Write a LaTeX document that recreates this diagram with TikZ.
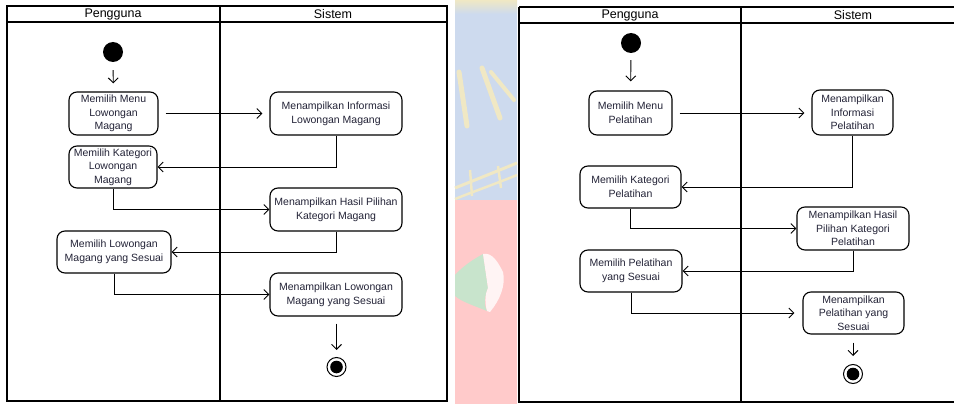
\documentclass[tikz,border=0pt]{standalone}
\usepackage{fontspec}
\setmainfont{Liberation Sans}
\usetikzlibrary{arrows.meta}

\definecolor{txt}{RGB}{35,35,55}
\definecolor{wmblue}{RGB}{205,218,238}
\definecolor{wmred}{RGB}{255,202,202}
\definecolor{wmyellow}{RGB}{240,232,196}
\definecolor{wmgreen}{RGB}{200,228,204}

\tikzset{
  act/.style={draw=black, line width=1.1pt, rounded corners=8pt, fill=white,
    align=center, inner sep=1pt, text=txt,
    font=\fontsize{10.5}{13.6}\selectfont},
  lane/.style={draw=black, line width=1.8pt},
  lanehead/.style={font=\fontsize{12.5}{14}\selectfont, text=black},
  flow/.style={draw=black, line width=0.9pt,
    -{Straight Barb[length=5pt,width=10pt,line width=0.9pt]}},
  startnode/.style={circle, fill=black, minimum size=20pt, inner sep=0pt},
  endnode/.style={circle, draw=black, line width=1pt, fill=white,
    minimum size=19pt, inner sep=0pt,
    path picture={\fill[black] (path picture bounding box.center) circle (6.3pt);}},
}

\begin{document}
\begin{tikzpicture}[x=1pt,y=-1pt]
\useasboundingbox (0,0) rectangle (954,404);
\fill[white] (0,0) rectangle (954,404);

% faded emblem strip between the two diagrams
\fill[wmblue] (455,0) rectangle (517,200);
\fill[wmred] (455,200) rectangle (517,404);
\shade[top color=wmyellow, bottom color=wmblue] (455,0) rectangle (517,14);
\draw[wmyellow, line width=5pt, line cap=round] (459,72) -- (467,126);
\draw[wmyellow, line width=5pt, line cap=round] (482,68) -- (500,118);
\draw[wmyellow, line width=4pt, line cap=round] (491,72) -- (514,100);
\draw[wmyellow, line width=3pt] (455,188) .. controls (475,180) and (495,172) .. (517,163);
\draw[wmyellow, line width=2.5pt] (455,199) .. controls (475,191) and (495,184) .. (517,175);
\draw[wmyellow, line width=2.5pt] (470,170) -- (472,196);
\draw[wmyellow, line width=2.5pt] (498,166) -- (501,188);
\fill[wmgreen] (455,275) .. controls (465,264) and (476,258) .. (483,254)
  -- (488,288) .. controls (484,298) and (484,306) .. (487,311)
  .. controls (475,306) and (462,302) .. (455,296) -- cycle;
\fill[white!80!wmred] (483,254) .. controls (492,252) and (498,262) .. (503,272)
  .. controls (506,285) and (500,300) .. (490,312) -- (487,311)
  .. controls (484,300) and (486,292) .. (488,288) -- cycle;

% ---------- left diagram: lowongan magang ----------
\draw[lane] (7,6) rectangle (447,401);
\draw[lane] (7,22) -- (447,22);
\draw[lane] (220,6) -- (220,401);
\node[lanehead] (lhU) at (113,14.5) {Pengguna};
\node[lanehead] (lhS) at (333,14.5) {Sistem};

\node[startnode] (ls) at (113,52) {};
\node[act, minimum width=89pt, minimum height=43pt] (l1) at (113.5,113.5) {Memilih Menu\\Lowongan\\Magang};
\node[act, minimum width=132pt, minimum height=43pt] (l2) at (336,113.5) {Menampilkan Informasi\\Lowongan Magang};
\node[act, minimum width=88pt, minimum height=42pt] (l3) at (113,167) {Memilih Kategori\\Lowongan\\Magang};
\node[act, minimum width=132pt, minimum height=43pt] (l4) at (336,209.5) {Menampilkan Hasil Pilihan\\Kategori Magang};
\node[act, minimum width=114pt, minimum height=42pt] (l5) at (114,252) {Memilih Lowongan\\Magang yang Sesuai};
\node[act, minimum width=132pt, minimum height=43pt] (l6) at (336,294.5) {Menampilkan Lowongan\\Magang yang Sesuai};
\node[endnode] (le) at (336.5,367) {};

\draw[flow, shorten <=8pt, shorten >=8pt] (ls) -- (l1);
\draw[flow, shorten <=7pt, shorten >=7pt] (l1) -- (l2);
\draw[flow] (l2.south) |- (l3.east);
\draw[flow] (l3.south) |- (l4.west);
\draw[flow] (l4.south) |- (l5.east);
\draw[flow] (l5.south) |- (l6.west);
\draw[flow, shorten <=7pt, shorten >=7pt] (l6.south -| le) -- (le);

% ---------- right diagram: pelatihan ----------
\draw[lane] (519,7) -- (960,7);
\draw[lane] (519,23) -- (960,23);
\draw[lane] (519,7) -- (519,402) -- (960,402);
\draw[lane] (741,7) -- (741,402);
\node[lanehead] (rhU) at (630,15) {Pengguna};
\node[lanehead] (rhS) at (853,15) {Sistem};

\node[startnode] (rs) at (631,43) {};
\node[act, minimum width=83pt, minimum height=44pt] (r1) at (630.5,113) {Memilih Menu\\Pelatihan};
\node[act, minimum width=81pt, minimum height=45pt] (r2) at (852.5,112.5) {Menampilkan\\Informasi\\Pelatihan};
\node[act, minimum width=101pt, minimum height=42pt] (r3) at (630.5,187) {Memilih Kategori\\Pelatihan};
\node[act, minimum width=112pt, minimum height=43pt] (r4) at (853,228.5) {Menampilkan Hasil\\Pilihan Kategori\\Pelatihan};
\node[act, minimum width=102pt, minimum height=42pt] (r5) at (631,271) {Memilih Pelatihan\\yang Sesuai};
\node[act, minimum width=101pt, minimum height=42pt] (r6) at (853.5,313) {Menampilkan\\Pelatihan yang\\Sesuai};
\node[endnode] (re) at (853,374) {};

\draw[flow, shorten <=7pt, shorten >=9pt] (rs) -- (r1);
\draw[flow, shorten <=7pt, shorten >=7pt] (r1.east) -- (r1.east -| r2.west);
\draw[flow] (r2.south) |- (r3.east);
\draw[flow] (r3.south) |- (r4.west);
\draw[flow] (r4.south) |- (r5.east);
\draw[flow, shorten >=8pt] (r5.south) |- (r6.west);
\draw[flow, shorten <=8pt, shorten >=8pt] (r6.south -| re) -- (re);
\end{tikzpicture}
\end{document}
